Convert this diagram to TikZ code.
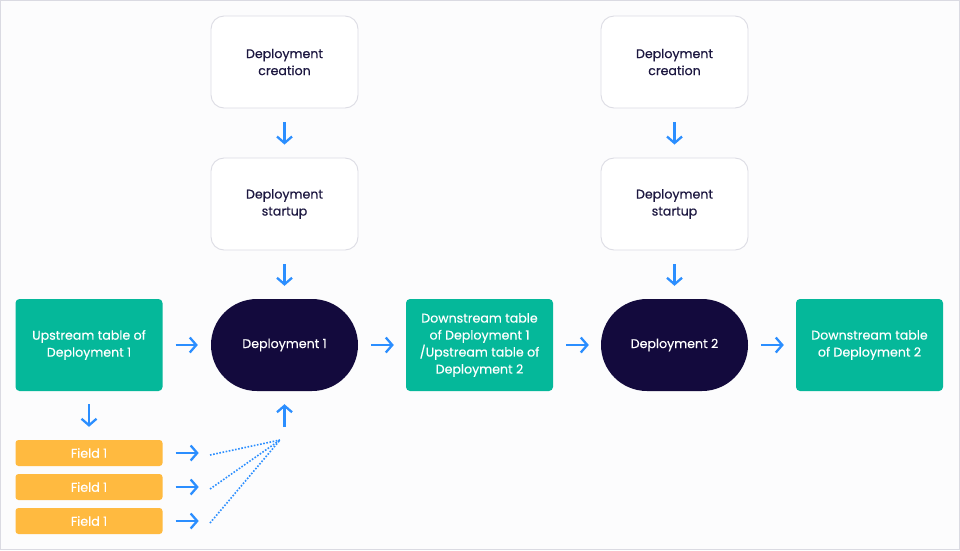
\documentclass[tikz,border=0pt]{standalone}
\usepackage{fontspec}
\setmainfont{Poppins}[FakeBold=0.4]
\usetikzlibrary{arrows.meta}
\definecolor{bgc}{HTML}{FCFCFD}
\definecolor{framec}{HTML}{DADAE2}
\definecolor{boxline}{HTML}{DCDCE4}
\definecolor{teal}{HTML}{05B89A}
\definecolor{navy}{HTML}{130A3D}
\definecolor{gold}{HTML}{FFBA40}
\definecolor{arrowc}{HTML}{2B8EFF}
\definecolor{textc}{HTML}{1C1740}
\tikzset{
  x=1pt, y=-1pt,
  every node/.style={font=\fontsize{12.6}{17}\selectfont, align=center, inner sep=0pt},
  whitebox/.style={draw=boxline, line width=0.9pt, fill=white, rounded corners=13pt, minimum width=147pt, minimum height=92pt, text=textc},
  tealbox/.style={fill=teal, rounded corners=4pt, minimum width=147pt, minimum height=92pt, text=white},
  navybox/.style={fill=navy, rounded corners=46pt, minimum width=147pt, minimum height=92pt, text=white},
  fieldbox/.style={fill=gold, rounded corners=3pt, minimum width=147pt, minimum height=26pt, text=white},
  flow/.style={draw=arrowc, line width=2.3pt, -{Straight Barb[length=6.5pt,width=15pt,line width=2.3pt]}},
  dotline/.style={draw=arrowc, line width=1.6pt, dash pattern=on 1.6pt off 1.6pt},
}
\begin{document}
\begin{tikzpicture}
\fill[bgc] (0,0) rectangle (960,550);
\draw[framec, line width=1.2pt] (0.6,0.6) rectangle (959.4,549.4);
\useasboundingbox (0,0) rectangle (960,550);

% column 1
\node[whitebox] (c1) at (284.5,62) {Deployment\\creation};
\node[whitebox] (s1) at (284.5,204) {Deployment\\startup};
\node[navybox] (d1) at (284.5,345) {Deployment 1};
% column 2
\node[whitebox] (c2) at (674.5,62) {Deployment\\creation};
\node[whitebox] (s2) at (674.5,204) {Deployment\\startup};
\node[navybox] (d2) at (674.5,345) {Deployment 2};

\node[tealbox] (up) at (89,345) {Upstream table of\\Deployment 1};
\node[tealbox] (mid) at (479.5,345) {Downstream table\\of Deployment 1\\/Upstream table of\\Deployment 2};
\node[tealbox] (down) at (869.5,345) {Downstream table\\of Deployment 2};

\node[fieldbox] (f1) at (89,453) {Field 1};
\node[fieldbox] (f2) at (89,487) {Field 1};
\node[fieldbox] (f3) at (89,521) {Field 1};

% vertical arrows
\draw[flow] ([yshift=-14pt]c1.south) -- ([yshift=13pt]s1.north);
\draw[flow] ([yshift=-14pt]s1.south) -- ([yshift=13pt]d1.north);
\draw[flow] ([yshift=-14pt]c2.south) -- ([yshift=13pt]s2.north);
\draw[flow] ([yshift=-14pt]s2.south) -- ([yshift=13pt]d2.north);
\draw[flow] ([yshift=-13pt]up.south) -- ([yshift=13pt]f1.north);

% horizontal arrows
\draw[flow] ([xshift=13pt]up.east) -- ([xshift=-13pt]d1.west);
\draw[flow] ([xshift=13pt]d1.east) -- ([xshift=-12pt]mid.west);
\draw[flow] ([xshift=13pt]mid.east) -- ([xshift=-12pt]d2.west);
\draw[flow] ([xshift=13pt]d2.east) -- ([xshift=-12pt]down.west);

\draw[flow] ([xshift=13pt]f1.east) -- ([xshift=36pt]f1.east);
\draw[flow] ([xshift=13pt]f2.east) -- ([xshift=36pt]f2.east);
\draw[flow] ([xshift=13pt]f3.east) -- ([xshift=36pt]f3.east);

% convergence
\coordinate (hub) at (280,440);
\coordinate (e1) at (210,455);
\coordinate (e2) at (210,489);
\coordinate (e3) at (210,523);
\draw[dotline] (e1) -- (hub);
\draw[dotline] (e2) -- (hub);
\draw[dotline] (e3) -- (hub);
\draw[flow] ([yshift=-36pt]d1.south) -- ([yshift=-13pt]d1.south);
\end{tikzpicture}
\end{document}
